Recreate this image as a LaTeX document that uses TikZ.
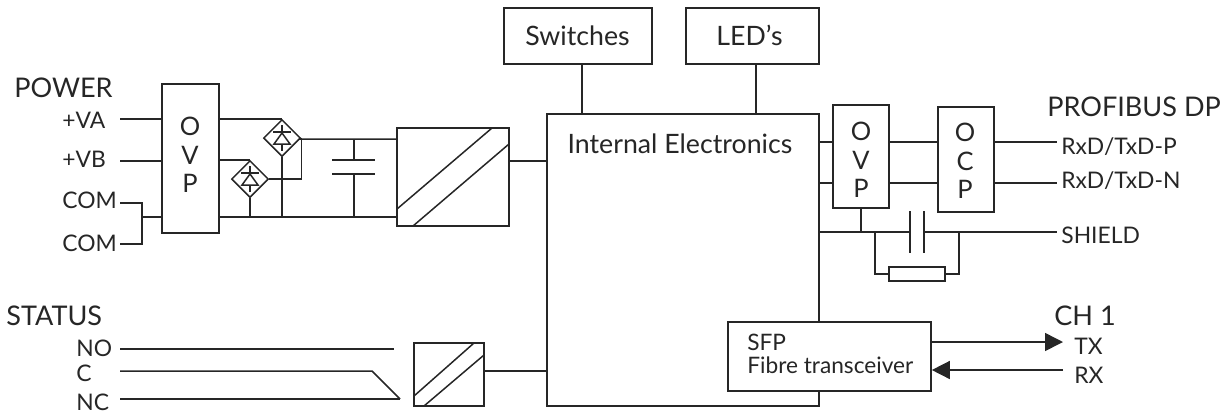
\documentclass[tikz,border=0pt]{standalone}
\usepackage{fontspec}
\setmainfont{Lato}
\usetikzlibrary{shapes.geometric,arrows.meta}
\tikzset{
	wire/.style={line width=0.85pt, draw=black!85},
	box/.style={draw=black!85, line width=0.95pt, fill=white, inner sep=0pt},
	letters/.style={inner sep=0pt, align=center, text=black!85, font=\fontsize{14.5}{16.2}\selectfont},
	bridge/.style={diamond, draw=black!85, line width=0.85pt, inner sep=0pt, minimum width=0.74cm, minimum height=0.74cm},
	boxtext/.style={anchor=base, inner sep=0pt, text=black!85, font=\fontsize{15.2}{17}\selectfont},
	head/.style={anchor=base west, inner sep=0pt, text=black!85, font=\fontsize{15.4}{17}\selectfont},
	term/.style={anchor=base west, inner sep=0pt, text=black!85, font=\fontsize{13}{15}\selectfont},
	fibre/.style={wire, -{Triangle[length=0.36cm, width=0.36cm]}},
}
\begin{document}
\begin{tikzpicture}[x=0.02cm, y=-0.02cm]
	\useasboundingbox (0,0) rectangle (1227,414);
	% Boxes
	\node[box, minimum width=5.44cm, minimum height=5.84cm] (main) at (683,260) {};
	\node[boxtext] (inttext) at (680,153) {Internal Electronics};
	\node[box, minimum width=2.96cm, minimum height=1.12cm] (switches) at (578,36) {};
	\node[boxtext] (swtext) at (577.5,45) {Switches};
	\node[box, minimum width=2.66cm, minimum height=1.12cm] (leds) at (752.5,36) {};
	\node[boxtext] (ledtext) at (749.5,45) {LED's};
	\node[box, minimum width=1.14cm, minimum height=2.98cm] (ovpl) at (190.5,158.5) {};
	\node[letters] (ovpltext) at (190,155) {O\\V\\P};
	\node[box, minimum width=1.12cm, minimum height=2.06cm] (ovpr) at (861,156.5) {};
	\node[letters] (ovprtext) at (861,160) {O\\V\\P};
	\node[box, minimum width=1.12cm, minimum height=2.10cm] (ocp) at (966,159.5) {};
	\node[letters] (ocptext) at (965,161) {O\\C\\P};
	\node[box, minimum width=2.24cm, minimum height=1.96cm] (conv) at (453,177) {};
	\node[box, minimum width=1.40cm, minimum height=1.26cm] (convs) at (449,374.5) {};
	\node[box, minimum width=4.06cm, minimum height=1.38cm] (sfp) at (829.5,356.5) {};
	\node[anchor=base west, inner sep=0pt, align=left, text=black!85, font=\fontsize{12.9}{13}\selectfont] (sfptext) at (747,373) {SFP\\Fibre transceiver};
	\node[box, minimum width=1.12cm, minimum height=0.28cm] (res) at (917,274) {};
	\node[bridge] (brg1) at (282,138) {};
	\node[bridge] (brg2) at (250,179) {};
	% Converter stripes
	\draw[wire] (492,128) -- (397,209);
	\draw[wire] (509,144) -- (413,226);
	\draw[wire] (474,343) -- (414,396);
	\draw[wire] (484,355) -- (424,406);
	% Rectifier symbols
	\foreach \n in {brg1,brg2} {
		\draw[wire] (\n.center) ++(0,-13) -- ++(0,7) ++(-9,0) -- ++(18,0);
		\draw[wire] (\n.center) ++(0,-5) -- ++(-8,11) -- ++(16,0) -- cycle;
		\draw[wire] (\n.center) ++(0,6) -- ++(0,7);
	}
	% Labels
	\node[head] (power) at (14,97) {POWER};
	\node[term] (lva) at (62,128) {+VA};
	\node[term] (lvb) at (62,167) {+VB};
	\node[term] (lcoma) at (62,208) {COM};
	\node[term] (lcomb) at (62,251) {COM};
	\node[head] (status) at (6,325) {STATUS};
	\node[term] (lno) at (76,356) {NO};
	\node[term] (lc) at (76,381) {C};
	\node[term] (lnc) at (76,410) {NC};
	\node[head] (profibus) at (1047,116) {PROFIBUS DP};
	\node[term] (lrtp) at (1061,154) {RxD/TxD-P};
	\node[term] (lrtn) at (1061,188) {RxD/TxD-N};
	\node[term] (lshield) at (1061,243) {SHIELD};
	\node[head] (ch) at (1054,325) {CH 1};
	\node[term] (ltx) at (1074,354) {TX};
	\node[term] (lrx) at (1074,383) {RX};
	% Free ends and junctions
	\coordinate (va) at (120,119);
	\coordinate (vb) at (120,161);
	\coordinate (coma) at (120,203);
	\coordinate (comb) at (120,244);
	\coordinate (comj) at (142,217);
	\coordinate (dcr) at (300,139);
	\coordinate (rail) at (354,217);
	\coordinate (capa) at (354,160);
	\coordinate (capb) at (354,174);
	\coordinate (no) at (120,349);
	\coordinate (noe) at (394,349);
	\coordinate (c) at (120,371);
	\coordinate (ce) at (372,371);
	\coordinate (nc) at (120,399);
	\coordinate (nce) at (400,399);
	\coordinate (rtp) at (1057,142);
	\coordinate (rtn) at (1057,183);
	\coordinate (shield) at (1057,232);
	\coordinate (platea) at (910,232);
	\coordinate (plateb) at (924,232);
	\coordinate (tx) at (1063,342);
	\coordinate (rx) at (1063,370);
	% Power side
	\draw[wire] (va) -- (va -| ovpl.west);
	\draw[wire] (vb) -- (vb -| ovpl.west);
	\draw[wire] (coma) -| (comj);
	\draw[wire] (comb) -| (comj);
	\draw[wire] (comj) -- (comj -| ovpl.west);
	\draw[wire] (ovpl.east |- brg1.north) -- (brg1.north);
	\draw[wire] (ovpl.east |- brg2.north) -- (brg2.north);
	\draw[wire] (ovpl.east |- rail) -- (conv.west |- rail);
	\draw[wire] (brg1.south) -- (brg1.south |- rail);
	\draw[wire] (brg2.south) -- (brg2.south |- rail);
	\draw[wire] (brg2.east) -| (brg1.east);
	\draw[wire] (brg1.east) -- (dcr) -- (dcr -| conv.west);
	\draw[wire] (capa |- dcr) -- (capa);
	\draw[wire] (capb) -- (rail);
	\draw[wire] (332,160) -- (375,160);
	\draw[wire] (332,174) -- (375,174);
	\draw[wire] (conv.east) ++(0,-16) coordinate (convout) -- (convout -| main.west);
	% Top and right side
	\draw[wire] (582,64) -- (582,114);
	\draw[wire] (756,64) -- (756,114);
	\draw[wire] (main.east |- rtp) -- (rtp -| ovpr.west);
	\draw[wire] (main.east |- rtn) -- (rtn -| ovpr.west);
	\draw[wire] (ovpr.east |- rtp) -- (rtp -| ocp.west);
	\draw[wire] (ovpr.east |- rtn) -- (rtn -| ocp.west);
	\draw[wire] (ocp.east |- rtp) -- (rtp);
	\draw[wire] (ocp.east |- rtn) -- (rtn);
	\draw[wire] (main.east |- shield) -- (platea);
	\draw[wire] (plateb) -- (shield);
	\draw[wire] (ovpr.south) -- (ovpr.south |- shield);
	\draw[wire] (910,211) -- (910,253);
	\draw[wire] (924,211) -- (924,253);
	\draw[wire] (875,232) |- (res.west);
	\draw[wire] (959,232) |- (res.east);
	% Status side
	\draw[wire] (no) -- (noe);
	\draw[wire] (c) -- (ce) -- (nce);
	\draw[wire] (nc) -- (nce);
	\draw[wire] (convs.east |- c) -- (c -| main.west);
	% Fibre
	\draw[fibre] (sfp.east |- tx) -- (tx);
	\draw[fibre] (rx) -- (sfp.east |- rx);
\end{tikzpicture}
\end{document}
